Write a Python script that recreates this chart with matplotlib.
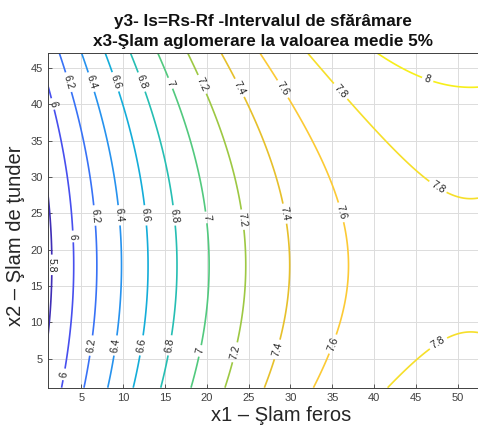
import numpy as np
import matplotlib.pyplot as plt
from matplotlib.colors import LinearSegmentedColormap

# model de regresie y3 = f(x1, x2), x3 fixat la valoarea medie 5%
# coeficienti: b0, b1, b2, b11, b22, b12
coef = [5.804, 0.0810, -0.01384, -0.000786, 0.000388, 0.0]

x1_range = [1, 52.4]
x2_range = [1, 47]
levels = [5.8, 6.0, 6.2, 6.4, 6.6, 6.8, 7.0, 7.2, 7.4, 7.6, 7.8, 8.0]

x_ticks = [5, 10, 15, 20, 25, 30, 35, 40, 45, 50]
y_ticks = [5, 10, 15, 20, 25, 30, 35, 40, 45]

# pozitiile etichetelor (aproximativ ca in MATLAB clabel)
label_pos = [
    (1.5, 40.0), (3.4, 43.0), (6.1, 43.0), (8.9, 43.0), (12.1, 43.0), (15.7, 42.9),
    (19.4, 42.7), (24.0, 42.3), (29.1, 42.1), (35.9, 41.7), (46.3, 43.1),
    (1.4, 17.9), (3.9, 21.8), (6.7, 24.7), (9.4, 24.7), (12.6, 24.7), (16.1, 24.7),
    (19.8, 24.4), (24.2, 24.1), (29.6, 25.0), (36.3, 25.2), (47.6, 28.6),
    (3.1, 2.8), (6.15, 6.8), (9.1, 6.8), (12.3, 6.8), (15.7, 6.8), (19.45, 6.0),
    (23.6, 5.8), (28.9, 6.1), (35.5, 6.8), (48.0, 6.5),
]

# aproximare parula (MATLAB)
parula_pts = [
    (0.000, (0.2422, 0.1504, 0.6603)),
    (0.111, (0.2810, 0.3228, 0.9579)),
    (0.238, (0.1786, 0.5289, 0.9682)),
    (0.365, (0.0689, 0.6948, 0.8394)),
    (0.492, (0.2161, 0.7843, 0.5923)),
    (0.556, (0.4420, 0.7951, 0.3822)),
    (0.619, (0.6720, 0.7793, 0.2227)),
    (0.683, (0.8880, 0.7529, 0.1641)),
    (0.746, (0.9970, 0.7659, 0.2199)),
    (0.873, (0.9606, 0.8932, 0.1537)),
    (1.000, (0.9763, 0.9831, 0.0538)),
]
parula = LinearSegmentedColormap.from_list('parula', parula_pts)

x1 = np.linspace(x1_range[0], x1_range[1], 300)
x2 = np.linspace(x2_range[0], x2_range[1], 300)
X1, X2 = np.meshgrid(x1, x2)
b0, b1, b2, b11, b22, b12 = coef
Y = b0 + b1 * X1 + b2 * X2 + b11 * X1 ** 2 + b22 * X2 ** 2 + b12 * X1 * X2

plt.rcParams['font.family'] = ['Liberation Sans', 'DejaVu Sans']

fig = plt.figure(figsize=(4.78, 4.25), dpi=100)
ax = fig.add_axes([0.0998, 0.0878, 0.9002, 0.7868])

cs = ax.contour(X1, X2, Y, levels=levels, cmap=parula, vmin=5.75, vmax=8.15,
                linewidths=1.2)
ax.clabel(cs, fmt='%g', fontsize=7.5, colors='#262626', manual=label_pos,
          inline=True, inline_spacing=3)

ax.set_xlim(x1_range)
ax.set_ylim(x2_range)
ax.set_xticks(x_ticks)
ax.set_yticks(y_ticks)
ax.grid(True, color='#dcdcdc', linewidth=0.7)
ax.set_axisbelow(True)
ax.tick_params(direction='in', length=3, labelsize=8, colors='#404040', width=0.6)
for s in ax.spines.values():
    s.set_color('#404040')
    s.set_linewidth(0.7)

ax.set_xlabel('x1 – Şlam feros', fontsize=14.5, color='#262626')
ax.set_ylabel('x2 – Şlam de ţunder', fontsize=14.5, color='#262626')
ax.xaxis.set_label_coords(0.542, -0.054)
ax.yaxis.set_label_coords(-0.053, 0.454)
ax.set_title('y3- Is=Rs-Rf -Intervalul de sfărâmare\nx3-Şlam aglomerare la valoarea medie 5%',
             fontsize=12.3, fontweight='bold', color='#111111', pad=5, linespacing=1.45)

fig.savefig('out.png', dpi=100)
